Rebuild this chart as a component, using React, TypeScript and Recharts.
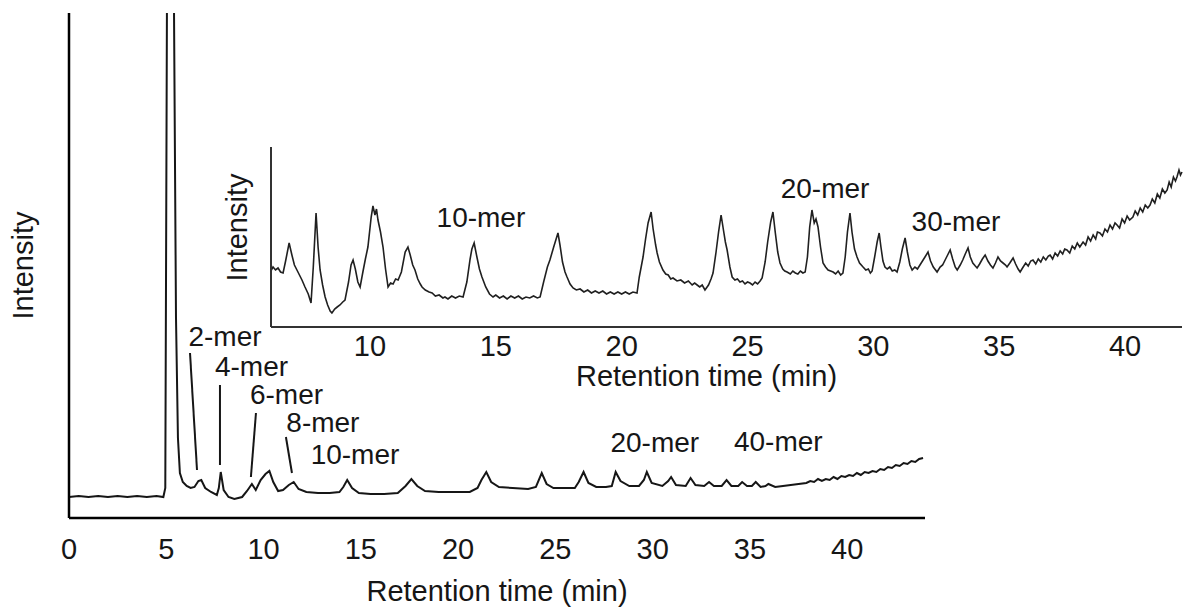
import React from 'react';
import { LineChart, Line, XAxis, YAxis, ReferenceLine, ReferenceDot } from 'recharts';

const FONT = '"Liberation Sans", Arial, Helvetica, sans-serif';
const INK = '#161616';

// main chromatogram (retention time in min, intensity in arbitrary units)
const mainTime = [
  0, 0.5, 1, 1.5, 2, 2.5, 3, 3.5, 4, 4.5, 4.85, 4.95, 5.05, 5.1, 5.3, 5.4, 5.5, 5.6, 5.7, 5.85,
  6.05, 6.25, 6.45, 6.65, 6.8, 7, 7.3, 7.6, 7.7, 7.8, 7.95, 8.2, 8.5, 8.9, 9.15, 9.4, 9.6, 9.85,
  10.1, 10.3, 10.5, 10.75, 11, 11.3, 11.55, 11.8, 12.2, 12.8, 13.4, 13.9, 14.1, 14.3,
  14.55, 14.9, 15.5, 16.2, 16.9, 17.3, 17.6, 17.9, 18.3, 19, 19.8, 20.6, 21, 21.2, 21.45,
  21.7, 22.1, 22.8, 23.6, 24, 24.3, 24.55, 24.9, 25.5, 26, 26.2, 26.45, 26.7, 27.1, 27.6,
  27.9, 28.1, 28.35, 28.8, 29.3, 29.55, 29.7, 29.95, 30.5, 30.8, 30.95, 31.2, 31.7, 31.95,
  32.2, 32.65, 32.9, 33.15, 33.55, 33.8, 34.05, 34.4, 34.6, 34.85, 35.1, 35.3, 35.55, 35.8,
  35.95, 36.3, 36.7, 37.1, 37.5, 37.9, 38.1, 38.3, 38.5, 38.7, 38.9, 39.1, 39.3, 39.5,
  39.7, 39.9, 40.1, 40.3, 40.5, 40.7, 40.9, 41.1, 41.3, 41.5, 41.7, 41.9, 42.1, 42.3, 42.5,
  42.7, 42.9, 43.1, 43.3, 43.5, 43.7, 43.9,
];
const mainIntensity = [
  21, 22, 21, 22, 21, 22, 21, 22, 21, 22, 21, 30, 600, 900, 900, 500, 200, 80, 45, 36,
  32, 30, 31, 37, 38, 30, 26, 23, 30, 46, 28, 21, 19, 21, 27, 34, 28, 38,
  44, 47, 36, 27, 28, 33, 36, 29, 26, 25, 25, 26, 31, 38,
  30, 25, 24, 24, 25, 32, 39, 32, 27, 26, 26, 26, 30, 38, 46,
  36, 31, 30, 29, 31, 45, 34, 30, 30, 30, 36, 46, 35, 31, 31,
  32, 46, 37, 32, 32, 38, 46, 35, 32, 37, 41, 33, 32, 40,
  33, 32, 36, 32, 32, 38, 32, 32, 36, 32, 32, 36, 31, 32,
  34, 31, 32, 33, 34, 35, 37, 36, 39, 37, 39, 38, 41, 39,
  42, 41, 43, 42, 45, 43, 46, 45, 47, 46, 49, 48, 51, 50, 53,
  52, 55, 54, 57, 56, 59, 60,
];

// inset: expanded view of the same run
const insetTime = [
  6.07, 6.15, 6.25, 6.35, 6.45, 6.55, 6.65, 6.79, 6.9, 7, 7.1, 7.2, 7.3, 7.42, 7.55, 7.66,
  7.75, 7.86, 7.94, 8.02, 8.12, 8.22, 8.32, 8.42, 8.49, 8.6, 8.7, 8.81, 8.92, 9.01, 9.15,
  9.25, 9.33, 9.42, 9.52, 9.61, 9.72, 9.82, 9.92, 10.05, 10.12, 10.2, 10.26, 10.32, 10.42,
  10.52, 10.62, 10.72, 10.82, 10.92, 11.02, 11.12, 11.25, 11.4, 11.51, 11.6, 11.7, 11.79,
  11.9, 12, 12.07, 12.2, 12.35, 12.47, 12.6, 12.75, 12.9, 12.98, 13.1, 13.25, 13.4, 13.55,
  13.7, 13.85, 13.98, 14.05, 14.14, 14.25, 14.35, 14.45, 14.6, 14.75, 14.89, 15, 15.15,
  15.3, 15.45, 15.6, 15.75, 15.9, 16.05, 16.2, 16.35, 16.5, 16.65, 16.76, 16.9, 17.05,
  17.15, 17.3, 17.47, 17.55, 17.65, 17.75, 17.83, 17.95, 18.07, 18.2, 18.35, 18.5, 18.65,
  18.8, 18.95, 19.1, 19.25, 19.4, 19.55, 19.7, 19.85, 20, 20.15, 20.3, 20.45, 20.61, 20.7,
  20.85, 20.95, 21.05, 21.17, 21.25, 21.35, 21.41, 21.5, 21.64, 21.75, 21.85, 21.95, 22.04,
  22.2, 22.35, 22.5, 22.65, 22.8, 22.9, 23, 23.1, 23.2, 23.31, 23.45, 23.55, 23.63, 23.75,
  23.85, 23.95, 24.05, 24.12, 24.19, 24.3, 24.39, 24.5, 24.6, 24.7, 24.8, 24.9, 25, 25.1,
  25.2, 25.3, 25.4, 25.5, 25.58, 25.7, 25.8, 25.92, 26.01, 26.1, 26.2, 26.29, 26.4, 26.48,
  26.57, 26.7, 26.8, 26.9, 27, 27.1, 27.2, 27.29, 27.38, 27.47, 27.56, 27.65, 27.72, 27.8,
  27.9, 28, 28.1, 28.2, 28.3, 28.4, 28.5, 28.6, 28.7, 28.79, 28.88, 28.97, 29.07, 29.15,
  29.25, 29.35, 29.45, 29.59, 29.7, 29.8, 29.88, 29.95, 30.05, 30.15, 30.23, 30.3, 30.38,
  30.46, 30.55, 30.65, 30.75, 30.85, 30.94, 31.05, 31.15, 31.26, 31.35, 31.45, 31.54,
  31.65, 31.75, 31.85, 31.95, 32.05, 32.17, 32.27, 32.38, 32.53, 32.65, 32.75, 32.85,
  32.95, 33.05, 33.15, 33.25, 33.33, 33.45, 33.55, 33.65, 33.76, 33.85, 33.95, 34.05,
  34.12, 34.22, 34.33, 34.44, 34.55, 34.65, 34.75, 34.85, 34.95, 35.05, 35.15, 35.25,
  35.31, 35.42, 35.55, 35.65, 35.75, 35.83, 35.95, 36.05, 36.15, 36.25, 36.34, 36.45,
  36.55, 36.65, 36.75, 36.85, 36.95, 37.02, 37.12, 37.22, 37.32, 37.42, 37.52, 37.6,
  37.69, 37.8, 37.9, 38, 38.1, 38.2, 38.33, 38.43, 38.53, 38.63, 38.73, 38.83, 38.9, 39,
  39.1, 39.2, 39.3, 39.4, 39.5, 39.6, 39.68, 39.78, 39.88, 39.98, 40.08, 40.18, 40.31,
  40.4, 40.5, 40.6, 40.7, 40.8, 40.9, 40.99, 41.08, 41.18, 41.28, 41.38, 41.48, 41.58,
  41.67, 41.75, 41.83, 41.92, 42, 42.06, 42.14, 42.2, 42.26,
];
const insetIntensity = [
  56, 60, 57, 59, 55, 54, 66, 84, 72, 62, 57, 52, 47, 40, 33, 24,
  60, 114, 80, 57, 42, 30, 22, 16, 14, 18, 20, 22, 25, 27, 45,
  62, 67, 58, 45, 40, 55, 68, 80, 110, 121, 112, 118, 107, 95,
  80, 58, 40, 44, 43, 48, 47, 55, 75, 80, 72, 62, 57,
  48, 43, 40, 37, 35, 34, 31, 32, 29, 30, 28, 31, 29, 31,
  30, 45, 68, 78, 84, 70, 58, 50, 40, 33, 30, 32, 29,
  31, 28, 31, 29, 31, 28, 30, 29, 31, 29, 30, 45, 60,
  67, 80, 94, 82, 65, 55, 50, 43, 39, 37, 38, 35, 37,
  34, 36, 34, 36, 33, 35, 33, 35, 33, 35, 33, 35, 34, 50,
  70, 88, 104, 115, 98, 82, 74, 65, 57, 53, 52, 48, 49,
  46, 47, 44, 46, 42, 44, 42, 40, 42, 37, 42, 48, 54, 75,
  95, 112, 96, 85, 77, 60, 50, 47, 48, 45, 46, 43, 45, 44,
  42, 45, 43, 46, 49, 65, 85, 105, 115, 95, 75, 64, 58, 56,
  55, 53, 56, 54, 53, 56, 54, 55, 70, 100, 117, 104, 108, 100,
  80, 64, 60, 57, 56, 55, 53, 56, 52, 54, 70, 95, 114, 95,
  78, 70, 64, 60, 57, 58, 54, 56, 70, 85, 94, 80, 66,
  60, 58, 60, 56, 57, 55, 65, 78, 89, 75, 62, 57,
  60, 58, 62, 66, 70, 75, 66, 60, 55, 60, 62, 67,
  72, 77, 68, 60, 57, 62, 67, 73, 79, 70, 64, 61,
  59, 63, 68, 72, 66, 62, 59, 64, 70, 66, 64, 62,
  60, 64, 69, 63, 58, 55, 60, 64, 61, 66, 67, 63,
  68, 65, 70, 67, 71, 72, 68, 74, 71, 76, 73, 78,
  77, 74, 81, 78, 84, 80, 85, 82, 90, 86, 92, 88, 95, 94,
  91, 98, 95, 102, 98, 104, 102, 99, 108, 104, 111, 107, 110,
  116, 112, 119, 115, 122, 119, 122, 128, 124, 133, 129, 138, 134,
  137, 145, 140, 150, 146, 150, 157, 152, 155,
];

const mainTicks = [0, 5, 10, 15, 20, 25, 30, 35, 40];
const insetTicks = [10, 15, 20, 25, 30, 35, 40];

// peak labels: text, time, intensity
const mainLabels = ['2-mer', '4-mer', '6-mer', '8-mer', '10-mer', '20-mer', '40-mer'];
const mainLabelTime = [8.02, 9.38, 11.18, 13.05, 14.7, 30.11, 36.46];
const mainLabelY = [182, 152, 124, 96, 64, 76, 77];

// leader lines from label to peak
const leaderFromTime = [6.22, 7.76, 9.61, 11.15];
const leaderFromY = [165, 133, 105, 81];
const leaderToTime = [6.58, 7.76, 9.35, 11.46];
const leaderToY = [48, 53, 41, 45];

const insetLabels = ['10-mer', '20-mer', '30-mer'];
const insetLabelTime = [14.41, 28.08, 33.28];
const insetLabelY = [110, 139, 106];

const mainData = mainTime.map((t, i) => ({ t, v: mainIntensity[i] }));
const insetData = insetTime.map((t, i) => ({ t, v: insetIntensity[i] }));

const tickStyle = { fill: INK, fontSize: 29, fontFamily: FONT };
const labelStyle = { fill: INK, fontSize: 29, fontFamily: FONT };
const noteStyle = { fill: INK, fontSize: 28, fontFamily: FONT };

export default function App() {
  return (
    <div style={{ position: 'absolute', left: 0, top: 0, width: 1186, height: 610, background: '#fff', fontFamily: FONT }}>
      <div style={{ position: 'absolute', left: 0, top: 0 }}>
        <LineChart width={1186} height={610} data={mainData} margin={{ top: 13, right: 261, left: 0, bottom: 9 }}>
          <XAxis
            dataKey="t"
            type="number"
            domain={[0, 44]}
            ticks={mainTicks}
            tickLine={false}
            tickSize={0}
            tickMargin={20}
            height={83}
            axisLine={{ stroke: '#000', strokeWidth: 2.5 }}
            tick={tickStyle}
            label={{ value: 'Retention time (min)', position: 'insideBottom', offset: 0, ...labelStyle }}
          />
          <YAxis
            type="number"
            domain={[0, 505]}
            allowDataOverflow
            tick={false}
            tickLine={false}
            width={69}
            axisLine={{ stroke: '#000', strokeWidth: 2.5 }}
            label={{ value: 'Intensity', angle: -90, position: 'center', dx: -11.5, ...labelStyle }}
          />
          <Line type="linear" dataKey="v" stroke={INK} strokeWidth={2} dot={false} isAnimationActive={false} />
          {leaderFromTime.map((t, i) => (
            <ReferenceLine
              key={'ld' + i}
              segment={[{ x: t, y: leaderFromY[i] }, { x: leaderToTime[i], y: leaderToY[i] }]}
              stroke={INK}
              strokeWidth={2}
            />
          ))}
          {mainLabels.map((txt, i) => (
            <ReferenceDot
              key={'ml' + i}
              x={mainLabelTime[i]}
              y={mainLabelY[i]}
              r={0}
              stroke="none"
              fill="none"
              label={{ value: txt, position: 'center', ...noteStyle }}
            />
          ))}
        </LineChart>
      </div>
      <div style={{ position: 'absolute', left: 0, top: 0 }}>
        <LineChart width={1186} height={610} data={insetData} margin={{ top: 147, right: 4, left: 0, bottom: 224 }}>
          <XAxis
            dataKey="t"
            type="number"
            domain={[6.07, 42.26]}
            ticks={insetTicks}
            tickLine={false}
            tickSize={0}
            tickMargin={8}
            height={59}
            axisLine={{ stroke: '#333', strokeWidth: 2 }}
            tick={tickStyle}
            label={{ value: 'Retention time (min)', position: 'insideBottom', offset: 0, dx: -20, ...labelStyle }}
          />
          <YAxis
            type="number"
            domain={[0, 180]}
            allowDataOverflow
            tick={false}
            tickLine={false}
            width={271}
            axisLine={{ stroke: '#333', strokeWidth: 2 }}
            label={{ value: 'Intensity', angle: -90, position: 'center', dx: 101.5, dy: -9.5, ...labelStyle }}
          />
          <Line type="linear" dataKey="v" stroke="#202020" strokeWidth={1.6} dot={false} isAnimationActive={false} />
          {insetLabels.map((txt, i) => (
            <ReferenceDot
              key={'il' + i}
              x={insetLabelTime[i]}
              y={insetLabelY[i]}
              r={0}
              stroke="none"
              fill="none"
              label={{ value: txt, position: 'center', ...noteStyle }}
            />
          ))}
        </LineChart>
      </div>
    </div>
  );
}
